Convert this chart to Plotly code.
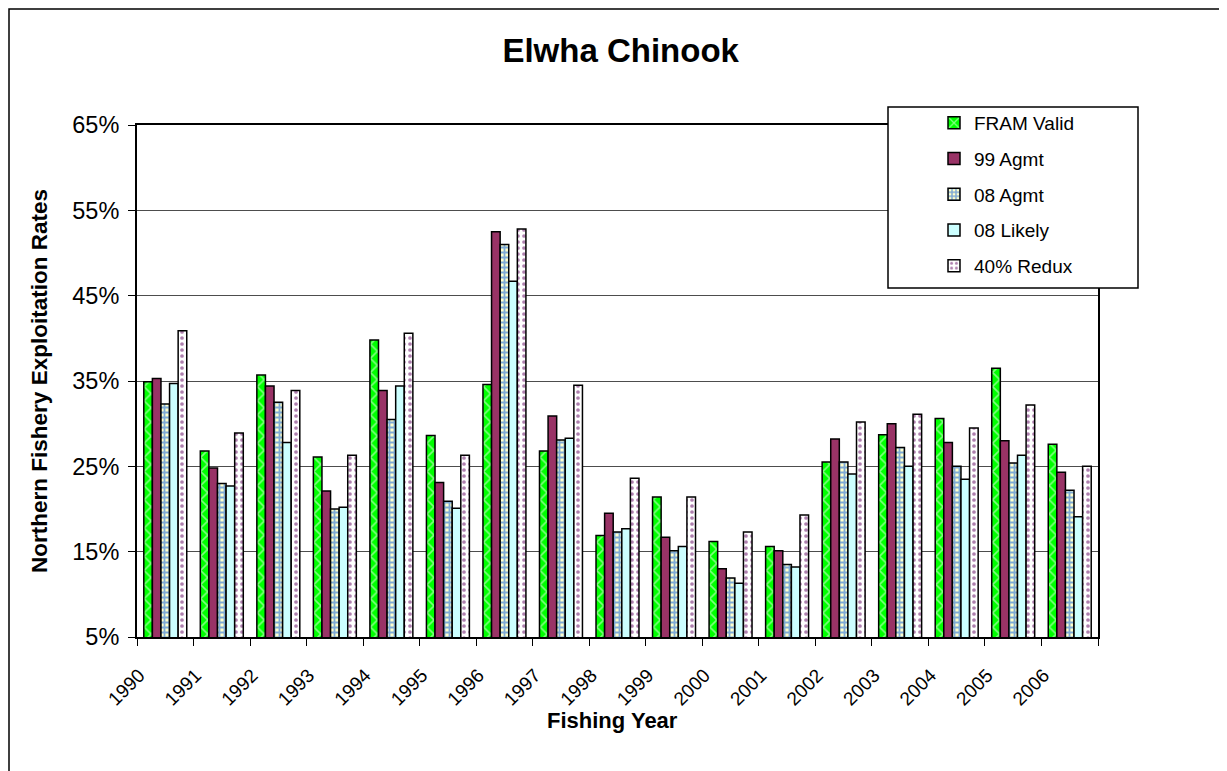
import plotly.graph_objects as go

years = [str(y) for y in range(1990, 2007)]

fram_valid = [34.9, 26.8, 35.7, 26.1, 39.8, 28.6, 34.6, 26.8, 16.9, 21.4, 16.2, 15.6, 25.5, 28.7, 30.6, 36.5, 27.6]
agmt_99 = [35.3, 24.8, 34.4, 22.1, 33.9, 23.1, 52.5, 30.9, 19.5, 16.7, 13.0, 15.1, 28.2, 30.0, 27.8, 28.0, 24.3]
agmt_08 = [32.3, 23.0, 32.5, 20.0, 30.5, 20.9, 51.0, 28.1, 17.3, 15.1, 11.9, 13.5, 25.5, 27.2, 25.0, 25.4, 22.2]
likely_08 = [34.7, 22.7, 27.8, 20.2, 34.4, 20.1, 46.7, 28.3, 17.7, 15.6, 11.3, 13.2, 24.1, 25.0, 23.5, 26.3, 19.1]
redux_40 = [40.9, 28.9, 33.9, 26.3, 40.6, 26.3, 52.8, 34.5, 23.6, 21.4, 17.3, 19.3, 30.2, 31.1, 29.5, 32.2, 25.0]

series_names = ["FRAM Valid", "99 Agmt", "08 Agmt", "08 Likely", "40% Redux"]
series_values = [fram_valid, agmt_99, agmt_08, likely_08, redux_40]

styles = [
    dict(color="#00FF00", pattern=dict(shape="x", fgcolor="#FFFFFF", bgcolor="#00FF00", size=10, solidity=0.3)),
    dict(color="#993366", pattern=None),
    dict(color="#FFFFCC", pattern=dict(shape="+", fgcolor="#0055DD", bgcolor="#FFFFCC", size=5, solidity=0.6)),
    dict(color="#CCFFFF", pattern=None),
    dict(color="#FFFFFF", pattern=dict(shape=".", fgcolor="#5C005C", bgcolor="#FFFFFF", size=6, solidity=0.3)),
]

FONT = "Liberation Sans, Arial, sans-serif"

fig = go.Figure()
for i, (name, vals, st) in enumerate(zip(series_names, series_values, styles)):
    marker = dict(color=st["color"], line=dict(color="#000000", width=1.5))
    if st["pattern"] is not None:
        marker["pattern"] = st["pattern"]
    fig.add_trace(go.Bar(
        x=years, y=vals, name=name, marker=marker,
        legendgroup=f"g{i}",
    ))

OFF = 8  # page body offset
W, H = 1227 - OFF, 771 - OFF
L, R, T, B = 137 - OFF, 1098 - OFF, 125 - OFF, 637 - OFF
pw, ph = R - L, B - T

def px(x):
    return (x - OFF - L) / pw

def py(y):
    return (B - (y - OFF)) / ph

shapes = [
    dict(type="rect", xref="paper", yref="paper", x0=px(9), x1=1.4, y0=-0.6, y1=py(9),
         line=dict(color="#000000", width=1.5), fillcolor="rgba(0,0,0,0)", layer="below"),
    dict(type="rect", xref="paper", yref="paper", x0=px(888), x1=px(1138), y0=py(288), y1=py(107),
         line=dict(color="#000000", width=1.5), fillcolor="#FFFFFF", layer="above"),
]

annotations = [
    dict(text="<b>Fishing Year</b>", xref="paper", yref="paper", x=px(612), y=py(720),
         xanchor="center", yanchor="middle", showarrow=False,
         font=dict(size=22, family=FONT, color="#000000")),
]

fig.update_layout(
    width=W, height=H,
    margin=dict(l=L, r=W - R, t=T, b=H - B, pad=0),
    paper_bgcolor="#FFFFFF", plot_bgcolor="#FFFFFF",
    barmode="group", bargap=0.24, bargroupgap=0,
    font=dict(family=FONT, color="#000000", size=19),
    title=dict(text="<b>Elwha Chinook</b>", x=px(620), xanchor="center", y=1 - (50 - OFF) / H, yanchor="middle",
               font=dict(size=33, family=FONT, color="#000000")),
    showlegend=True,
    legend=dict(x=px(934), xanchor="left", y=py(104), yanchor="top",
                bgcolor="rgba(0,0,0,0)", borderwidth=0,
                font=dict(size=19, family=FONT), tracegroupgap=8, itemwidth=30),
    shapes=shapes,
    annotations=annotations,
)

fig.update_xaxes(
    type="category", tickangle=-45, tickson="boundaries",
    ticks="outside", ticklen=7, tickcolor="#000000", tickwidth=1,
    showline=True, linecolor="#000000", linewidth=1.5, mirror=True,
    showgrid=False,
    tickfont=dict(size=19, family=FONT),
    ticklabelshift=-26, ticklabelstandoff=18,
)
fig.update_yaxes(
    range=[5, 65], dtick=10, tick0=5, ticksuffix="%",
    ticks="outside", ticklen=7, tickcolor="#000000", tickwidth=1,
    showline=True, linecolor="#000000", linewidth=2, mirror=True,
    showgrid=True, gridcolor="#4D4D4D", gridwidth=1,
    zeroline=False,
    tickfont=dict(size=23.5, family=FONT), ticklabelstandoff=4,
    title=dict(text="<b>Northern Fishery Exploitation Rates</b>", font=dict(size=22.5, family=FONT), standoff=18),
)

fig.write_html("out.html")
